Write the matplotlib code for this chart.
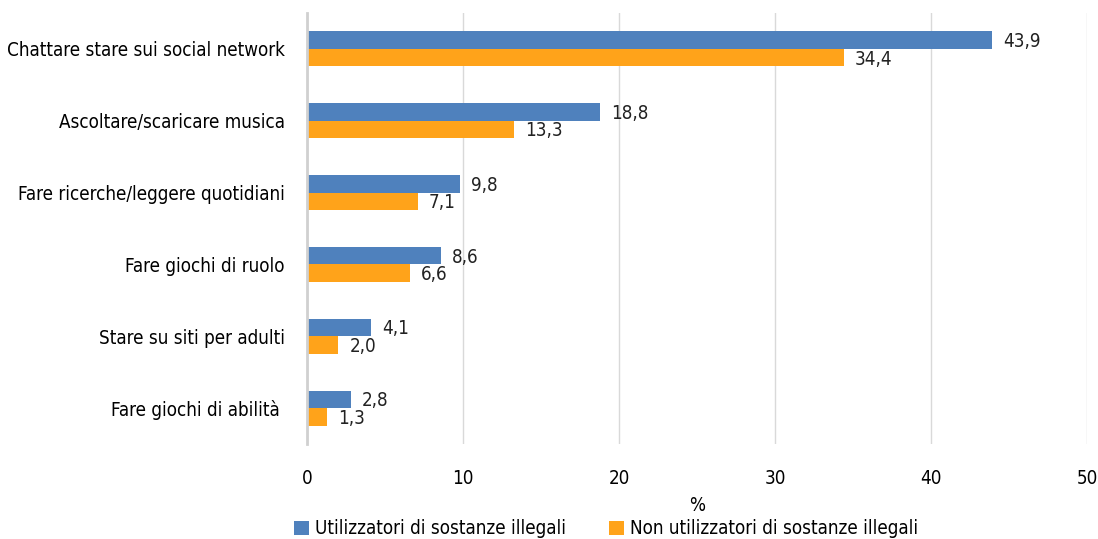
import matplotlib.pyplot as plt
import numpy as np

plt.rcParams['font.family'] = ['DejaVu Sans']
plt.rcParams['font.stretch'] = 'condensed'

categories = ['Chattare stare sui social network', 'Ascoltare/scaricare musica',
              'Fare ricerche/leggere quotidiani', 'Fare giochi di ruolo',
              'Stare su siti per adulti', 'Fare giochi di abilità ']
utilizzatori = [43.9, 18.8, 9.8, 8.6, 4.1, 2.8]
non_utilizzatori = [34.4, 13.3, 7.1, 6.6, 2.0, 1.3]
xticks = [0, 10, 20, 30, 40, 50]

blue = '#4f81bd'
orange = '#ffa31a'

fig = plt.figure(figsize=(10.98, 5.39), dpi=100)
ax = fig.add_axes([0.2796, 0.176, 0.7104, 0.800])

y = np.arange(len(categories))
h = 0.245
b1 = ax.barh(y - h / 2, utilizzatori, height=h, color=blue, label='Utilizzatori di sostanze illegali')
b2 = ax.barh(y + h / 2, non_utilizzatori, height=h, color=orange, label='Non utilizzatori di sostanze illegali')

for bars in (b1, b2):
    for bar in bars:
        v = bar.get_width()
        ax.annotate(f'{v:.1f}'.replace('.', ','), (v, bar.get_y() + bar.get_height() / 2),
                    xytext=(8, -1), textcoords='offset points', va='center', ha='left',
                    fontsize=13.5, color='#222222')

ax.set_yticks(y)
ax.set_yticklabels(categories, fontsize=13.5)
ax.set_ylim(len(categories) - 0.5, -0.5)
ax.set_xlim(0, 50)
ax.set_xticks(xticks)
ax.set_xticklabels([str(t) for t in xticks], fontsize=13.5)
ax.tick_params(length=0)
ax.tick_params(axis='y', pad=16)
ax.tick_params(axis='x', pad=18)
ax.grid(axis='x', color='#d9d9d9', linewidth=1)
ax.set_axisbelow(True)
for s in ['top', 'right', 'bottom']:
    ax.spines[s].set_visible(False)
ax.spines['left'].set_color('#d0d0d0')
ax.spines['left'].set_linewidth(2)
ax.set_xlabel('%', fontsize=13.5, labelpad=6)

fig.legend(loc='lower center', bbox_to_anchor=(0.552, -0.03), ncol=2, frameon=False,
           fontsize=13.5, handlelength=0.8, handleheight=0.8, handletextpad=0.3, columnspacing=2.3)

fig.savefig('out.png', dpi=100)
